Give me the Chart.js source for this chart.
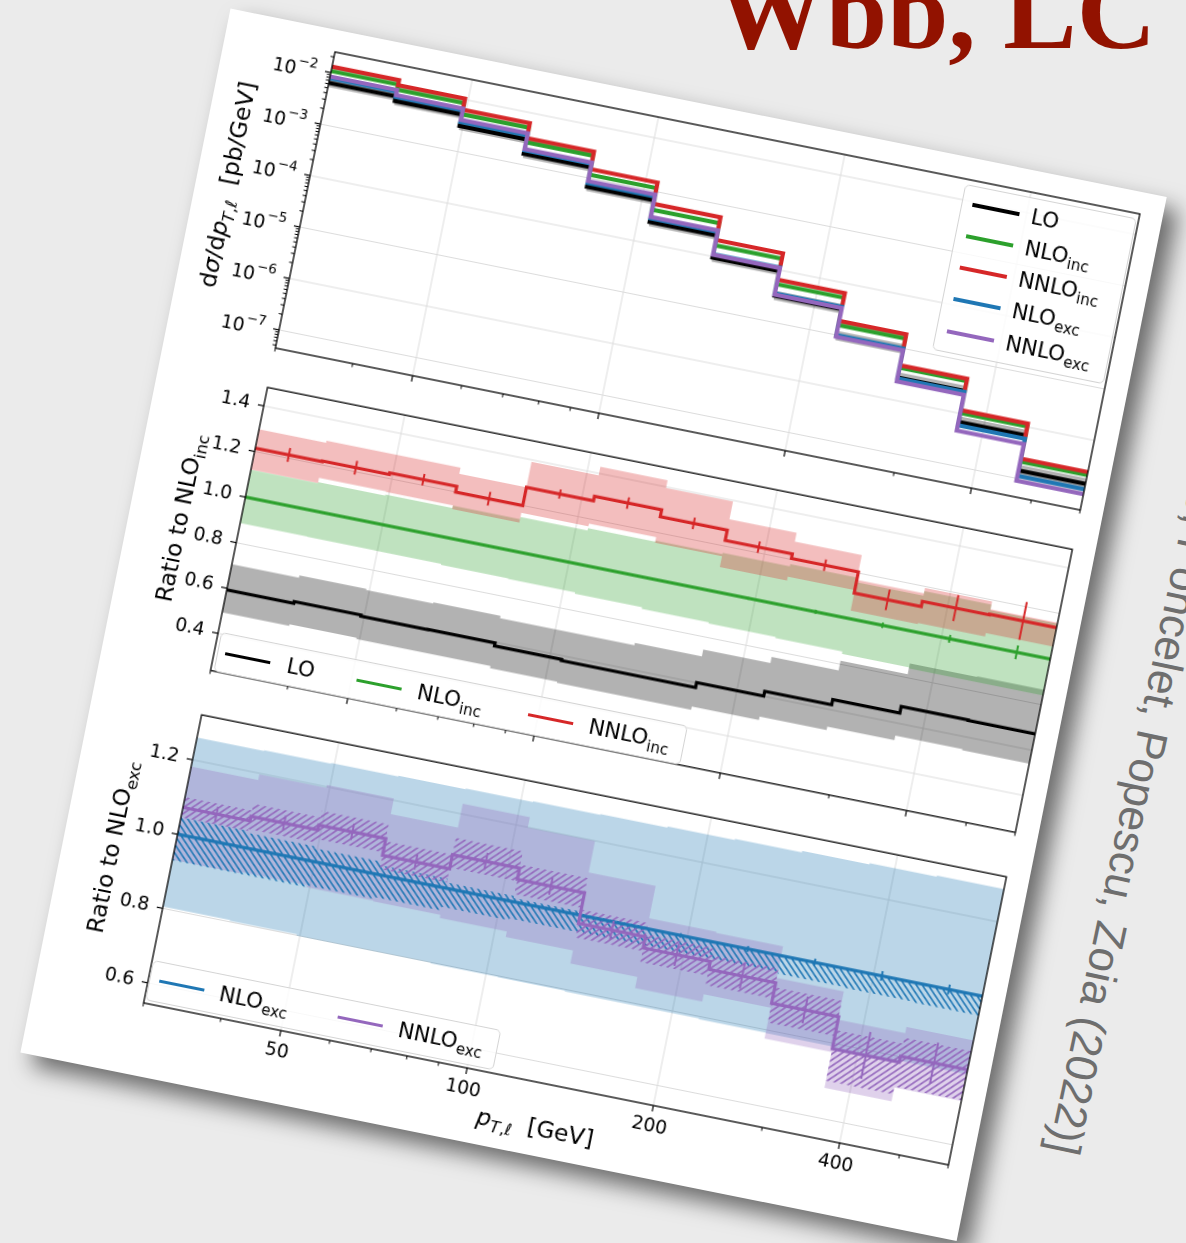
<!DOCTYPE html>
<html>
<head>
<meta charset="utf-8">
<title>Wbb̄, LC – lepton transverse momentum</title>
<script src="https://cdn.jsdelivr.net/npm/chart.js@4.4.1/dist/chart.umd.min.js"></script>
<style>
  html, body { margin: 0; padding: 0; }
  body { width: 1186px; height: 1243px; overflow: hidden; position: relative; background: #ebebeb; font-family: 'DejaVu Sans', sans-serif; }
  #title { position: absolute; left: 716px; top: -44px; font: bold 110px/1 'Liberation Serif', serif; color: #921200; white-space: nowrap; }
  #cite { position: absolute; left: 1258px; top: 343px; transform-origin: 0 0; transform: rotate(102deg); font: 44px/1 'Liberation Sans', sans-serif; color: #6e6e6e; white-space: nowrap; }
  #frame { position: absolute; left: 335px; top: 51.7px; width: 0; height: 0; transform-origin: 0 0; transform: rotate(11.38deg); }
  #card { position: absolute; left: -111.5px; top: -21.7px; width: 955px; height: 1064.5px; background: #fff; box-shadow: 14px 11px 22px rgba(0,0,0,0.55); }
  canvas { position: absolute; }
  .leg { position: absolute; box-sizing: border-box; border: 1px solid #d4d4d4; border-radius: 5px; background: rgba(255,255,255,0.8); }
  .hd { position: absolute; }
  .tx { position: absolute; font-size: 21.5px; line-height: 22px; white-space: nowrap; color: #000; }
  sub { font-size: 70%; vertical-align: baseline; position: relative; top: 0.35em; line-height: 0; }
  .lab { position: absolute; font-size: 23.5px; line-height: 24px; white-space: nowrap; color: #000; transform: translate(-50%, -50%); }
  .lab sub { top: 0.3em; }
  .vl { transform: translate(-50%, -50%) rotate(-90deg); }
</style>
</head>
<body>
<div id="title">Wbb̄, LC</div>
<div id="cite">[Hartanto, Poncelet, Popescu, Zoia (2022)]</div>

<div id="frame">
  <div id="card"></div>

  <canvas id="cTop" width="945" height="328" style="left:-110px;top:-12px;width:945px;height:328px"></canvas>
  <canvas id="cMid" width="945" height="327" style="left:-110px;top:322.5px;width:945px;height:327px"></canvas>
  <canvas id="cBot" width="945" height="357" style="left:-110px;top:657px;width:945px;height:357px"></canvas>

  <div class="lab vl" style="left:-79.5px;top:150.9px">d<i>σ</i>/d<i>p</i><sub><i>T</i>,<i>ℓ</i></sub>&nbsp;&nbsp;[pb/GeV]</div>
  <div class="lab vl" style="left:-60.1px;top:487.2px">Ratio to NLO<sub>inc</sub></div>
  <div class="lab vl" style="left:-62.2px;top:822.6px">Ratio to NLO<sub>exc</sub></div>
  <div class="lab" style="left:408.3px;top:1014.7px"><i>p</i><sub><i>T</i>,<i>ℓ</i></sub>&nbsp;&nbsp;[GeV]</div>

  <div class="leg" style="left:643.6px;top:4.7px;width:175px;height:169px">
    <div class="hd" style="left:10.4px;top:16.6px;width:48px;height:4px;background:#000000"></div>
    <div class="tx" style="left:70.4px;top:7.6px">LO</div>
    <div class="hd" style="left:10.4px;top:48.1px;width:48px;height:4px;background:#2ca02c"></div>
    <div class="tx" style="left:70.4px;top:39.1px">NLO<sub>inc</sub></div>
    <div class="hd" style="left:10.4px;top:80.2px;width:48px;height:4px;background:#d62728"></div>
    <div class="tx" style="left:70.4px;top:71.2px">NNLO<sub>inc</sub></div>
    <div class="hd" style="left:10.4px;top:111.9px;width:48px;height:4px;background:#1f77b4"></div>
    <div class="tx" style="left:70.4px;top:102.9px">NLO<sub>exc</sub></div>
    <div class="hd" style="left:10.4px;top:144.9px;width:48px;height:4px;background:#9467bd"></div>
    <div class="tx" style="left:70.4px;top:135.9px">NNLO<sub>exc</sub></div>
  </div>

  <div class="leg" style="left:3.4px;top:591px;width:476px;height:40px">
    <div class="hd" style="left:6.6px;top:17.9px;width:46px;height:3px;background:#000000"></div>
    <div class="tx" style="left:69.6px;top:8.4px">LO</div>
    <div class="hd" style="left:140.6px;top:17.9px;width:46px;height:3px;background:#2ca02c"></div>
    <div class="tx" style="left:202.6px;top:8.4px">NLO<sub>inc</sub></div>
    <div class="hd" style="left:315.6px;top:17.9px;width:46px;height:3px;background:#d62728"></div>
    <div class="tx" style="left:377.6px;top:8.4px">NNLO<sub>inc</sub></div>
  </div>

  <div class="leg" style="left:1.1px;top:926.3px;width:355px;height:41px">
    <div class="hd" style="left:9.4px;top:17px;width:46px;height:3px;background:#1f77b4"></div>
    <div class="tx" style="left:70.4px;top:7.5px">NLO<sub>exc</sub></div>
    <div class="hd" style="left:190.5px;top:17px;width:46px;height:3px;background:#9467bd"></div>
    <div class="tx" style="left:252.9px;top:7.5px">NNLO<sub>exc</sub></div>
  </div>
</div>

<script>
// ---- binning in p_T,l [GeV] (12 log-spaced bins) ----
const EDGES   = [30, 38.5, 49.4, 63.4, 81.4, 104.5, 134.2, 172.2, 221.1, 283.7, 364.2, 467.5, 600];
const CENTERS = [34.0, 43.6, 56.0, 71.8, 92.2, 118.4, 152.0, 195.1, 250.5, 321.4, 412.6, 529.6];

// ---- axis ticks ----
const X_MAJOR = [50, 100, 200, 400];
const X_TICK_LABELS = ['50', '100', '200', '400'];
const X_MINOR = [30, 40, 60, 70, 80, 90, 300, 500, 600];
const TOP_Y_TICKS = [1e-7, 1e-6, 1e-5, 1e-4, 1e-3, 1e-2];
const TOP_Y_BASE  = '10';
const TOP_Y_EXP   = ['−7', '−6', '−5', '−4', '−3', '−2'];
const MID_Y_TICKS  = [0.4, 0.6, 0.8, 1.0, 1.2, 1.4];
const MID_Y_LABELS = ['0.4', '0.6', '0.8', '1.0', '1.2', '1.4'];
const BOT_Y_TICKS  = [0.6, 0.8, 1.0, 1.2];
const BOT_Y_LABELS = ['0.6', '0.8', '1.0', '1.2'];

// ---- dσ/dp_T,l [pb/GeV] ----
const LO       = [6.30e-3, 5.10e-3, 3.06e-3, 1.61e-3, 6.73e-4, 2.55e-4, 9.51e-5, 3.16e-5, 9.59e-6, 2.71e-6, 6.80e-7, 1.42e-7];
const LO_HI    = [7.51e-3, 6.08e-3, 3.66e-3, 1.93e-3, 8.14e-4, 3.12e-4, 1.177e-4, 3.93e-5, 1.193e-5, 3.43e-6, 8.71e-7, 1.825e-7];
const LO_LO    = [5.25e-3, 4.25e-3, 2.55e-3, 1.337e-3, 5.60e-4, 2.12e-4, 7.90e-5, 2.61e-5, 7.88e-6, 2.21e-6, 5.51e-7, 1.139e-7];
const NLO_INC  = [1.065e-2, 8.50e-3, 5.15e-3, 2.70e-3, 1.155e-3, 4.42e-4, 1.646e-4, 5.27e-5, 1.545e-5, 4.21e-6, 1.011e-6, 2.11e-7];
const NNLO_INC = [1.294e-2, 1.035e-2, 6.31e-3, 3.24e-3, 1.479e-3, 5.75e-4, 2.09e-4, 6.46e-5, 1.862e-5, 4.68e-6, 1.148e-6, 2.40e-7];
const NLO_EXC  = [7.77e-3, 6.12e-3, 3.66e-3, 1.89e-3, 7.97e-4, 3.01e-4, 1.103e-4, 3.48e-5, 9.89e-6, 2.61e-6, 5.86e-7, 1.118e-7];
const NNLO_EXC = [8.33e-3, 6.63e-3, 4.02e-3, 1.99e-3, 8.69e-4, 3.19e-4, 1.079e-4, 3.30e-5, 9.17e-6, 2.28e-6, 4.61e-7, 8.97e-8];

// ---- ratio to NLO_inc ----
const R_LO        = [0.592, 0.600, 0.595, 0.596, 0.583, 0.578, 0.578, 0.600, 0.621, 0.644, 0.673, 0.671];
const R_LO_HI     = [0.705, 0.715, 0.710, 0.715, 0.705, 0.705, 0.715, 0.745, 0.772, 0.815, 0.862, 0.865];
const R_LO_LO     = [0.493, 0.500, 0.495, 0.495, 0.485, 0.480, 0.480, 0.495, 0.510, 0.525, 0.545, 0.540];
const R_NLO       = [1, 1, 1, 1, 1, 1, 1, 1, 1, 1, 1, 1];
const R_NLO_HI    = [1.120, 1.125, 1.130, 1.140, 1.150, 1.160, 1.165, 1.170, 1.180, 1.160, 1.180, 1.155];
const R_NLO_LO    = [0.886, 0.885, 0.884, 0.880, 0.878, 0.872, 0.865, 0.860, 0.855, 0.845, 0.840, 0.840];
const R_NLO_ERR   = [0.003, 0.003, 0.003, 0.004, 0.004, 0.005, 0.006, 0.007, 0.009, 0.012, 0.017, 0.030];
const R_NNLO      = [1.215, 1.218, 1.225, 1.200, 1.280, 1.300, 1.270, 1.225, 1.205, 1.112, 1.135, 1.138];
const R_NNLO_HI   = [1.298, 1.307, 1.307, 1.280, 1.392, 1.430, 1.396, 1.318, 1.279, 1.170, 1.194, 1.160];
const R_NNLO_LO   = [1.121, 1.144, 1.141, 1.125, 1.168, 1.180, 1.155, 1.108, 1.125, 1.035, 1.040, 1.055];
const R_NNLO_ERR  = [0.030, 0.030, 0.025, 0.030, 0.020, 0.025, 0.025, 0.025, 0.025, 0.045, 0.057, 0.083];

// ---- ratio to NLO_exc ----
const E_NLO       = [1, 1, 1, 1, 1, 1, 1, 1, 1, 1, 1, 1];
const E_NLO_HI    = [1.260, 1.262, 1.264, 1.266, 1.268, 1.270, 1.272, 1.275, 1.278, 1.282, 1.285, 1.288];
const E_NLO_LO    = [0.805, 0.803, 0.800, 0.800, 0.798, 0.797, 0.795, 0.795, 0.793, 0.792, 0.790, 0.790];
const E_NLO_H_HI  = [1.045, 1.040, 1.035, 1.025, 1.015, 1.010, 1.005, 1.002, 1.000, 1.000, 1.000, 1.000];
const E_NLO_H_LO  = [0.930, 0.930, 0.935, 0.940, 0.950, 0.955, 0.955, 0.955, 0.955, 0.952, 0.950, 0.948];
const E_NLO_ERR   = [0.003, 0.003, 0.003, 0.004, 0.004, 0.005, 0.005, 0.006, 0.008, 0.010, 0.013, 0.013];
const E_NNLO      = [1.072, 1.084, 1.097, 1.052, 1.090, 1.060, 0.978, 0.948, 0.927, 0.872, 0.786, 0.802];
const E_NNLO_HI   = [1.182, 1.197, 1.205, 1.163, 1.227, 1.199, 1.115, 1.028, 1.025, 0.940, 0.864, 0.881];
const E_NNLO_LO   = [0.931, 0.935, 0.930, 0.928, 0.920, 0.905, 0.870, 0.840, 0.860, 0.777, 0.681, 0.718];
const E_NNLO_H_HI = [1.100, 1.118, 1.135, 1.090, 1.135, 1.100, 1.015, 0.985, 0.965, 0.915, 0.836, 0.852];
const E_NNLO_H_LO = [1.045, 1.050, 1.060, 1.015, 1.055, 1.020, 0.940, 0.910, 0.885, 0.820, 0.700, 0.720];
const E_NNLO_ERR  = [0.020, 0.020, 0.022, 0.020, 0.023, 0.023, 0.025, 0.030, 0.034, 0.036, 0.063, 0.055];

// ---- styling ----
const C_LO = '#000000', C_NLO = '#2ca02c', C_NNLO = '#d62728', C_NLOX = '#1f77b4', C_NNLOX = '#9467bd';
const GRID = '#dcdcdc';
const LEFT = 110, PAD_T = 12, PAD_R = 14;
const TICK_FONT = 18.6, SUP_FONT = 13.5;
const FONT = "'DejaVu Sans', sans-serif";

Chart.defaults.font.family = FONT;
Chart.defaults.font.size = TICK_FONT;
Chart.defaults.color = '#000';

// histogram outline: one point per left bin edge plus the closing right edge
function steps(vals) {
  const pts = vals.map((y, i) => ({ x: EDGES[i], y }));
  pts.push({ x: EDGES[EDGES.length - 1], y: vals[vals.length - 1] });
  return pts;
}
// vertical error bars at bin centres, separated by gaps
function errPts(vals, errs) {
  const pts = [];
  vals.forEach((v, i) => {
    pts.push({ x: CENTERS[i], y: v - errs[i] }, { x: CENTERS[i], y: v + errs[i] }, { x: CENTERS[i], y: null });
  });
  return pts;
}
function stepLine(vals, color, width, order) {
  return { data: steps(vals), borderColor: color, borderWidth: width, stepped: true, fill: false, order };
}
function band(hi, lo, fillStyle, order) {
  return [
    { data: steps(hi), borderColor: 'transparent', borderWidth: 0, backgroundColor: fillStyle, stepped: true, fill: '+1', order },
    { data: steps(lo), borderColor: 'transparent', borderWidth: 0, stepped: true, fill: false, order }
  ];
}
function errBars(vals, errs, color, order) {
  return { data: errPts(vals, errs), borderColor: color, borderWidth: 2, fill: false, spanGaps: false, order };
}
function hatch(ctx, color, dir) {
  const k = 2, n = 7 * k;
  const c = document.createElement('canvas');
  c.width = c.height = n;
  const g = c.getContext('2d');
  g.strokeStyle = color;
  g.lineWidth = 1.6 * k;
  g.beginPath();
  if (dir === '/') {
    g.moveTo(-n, n); g.lineTo(n, -n);
    g.moveTo(-n, 2 * n); g.lineTo(2 * n, -n);
    g.moveTo(0, 2 * n); g.lineTo(2 * n, 0);
  } else {
    g.moveTo(-n, -n); g.lineTo(2 * n, 2 * n);
    g.moveTo(0, -n); g.lineTo(2 * n, n);
    g.moveTo(-n, 0); g.lineTo(n, 2 * n);
  }
  g.stroke();
  const p = ctx.createPattern(c, 'repeat');
  p.setTransform(new DOMMatrix([1 / k, 0, 0, 1 / k, 0, 0]));
  return p;
}

// closed axes box, short minor tick marks and power-of-ten labels
const axesBox = {
  id: 'axesBox',
  afterDatasetsDraw(chart, args, opts) {
    const { ctx, chartArea: a, scales } = chart;
    ctx.save();
    ctx.strokeStyle = '#000';
    ctx.lineWidth = 1;
    ctx.beginPath();
    X_MINOR.forEach(v => {
      const p = scales.x.getPixelForValue(v);
      ctx.moveTo(p, a.bottom); ctx.lineTo(p, a.bottom + 3.5);
    });
    (opts.yMinor || []).forEach(v => {
      const p = scales.y.getPixelForValue(v);
      ctx.moveTo(a.left, p); ctx.lineTo(a.left - 3.5, p);
    });
    ctx.stroke();
    ctx.lineWidth = 1.3;
    ctx.strokeRect(a.left, a.top, a.right - a.left, a.bottom - a.top);
    if (opts.pow) {
      ctx.fillStyle = '#000';
      ctx.textAlign = 'left';
      ctx.textBaseline = 'alphabetic';
      const right = a.left - 6 - 8;
      opts.pow.ticks.forEach((v, i) => {
        const y = scales.y.getPixelForValue(v);
        ctx.font = SUP_FONT + 'px ' + FONT;
        const ew = ctx.measureText(opts.pow.exps[i]).width;
        ctx.font = TICK_FONT + 'px ' + FONT;
        const bw = ctx.measureText(opts.pow.base).width;
        const x0 = right - ew - bw - 1;
        ctx.fillText(opts.pow.base, x0, y + 0.364 * TICK_FONT + 2);
        ctx.font = SUP_FONT + 'px ' + FONT;
        ctx.fillText(opts.pow.exps[i], x0 + bw + 1, y - 1.5);
      });
    }
    ctx.restore();
  }
};

function xScale(showLabels, xh) {
  return {
    type: 'logarithmic', min: 30, max: 600, offset: false,
    afterBuildTicks: s => { s.ticks = X_MAJOR.map(v => ({ value: v })); },
    afterFit: s => { s.height = xh; },
    ticks: { display: showLabels, autoSkip: false, maxRotation: 0, minRotation: 0, padding: 4,
             callback: (v, i) => X_TICK_LABELS[i] },
    grid: { color: GRID, lineWidth: 1, drawTicks: true, tickLength: 6, tickWidth: 1.2, tickColor: '#000', offset: false },
    border: { display: false }
  };
}
function yScale(type, min, max, ticks, labels) {
  return {
    type, min, max,
    afterBuildTicks: s => { s.ticks = ticks.map(v => ({ value: v })); },
    afterFit: s => { s.width = LEFT; },
    ticks: { display: !!labels, autoSkip: false, padding: 8, callback: (v, i) => (labels ? labels[i] : '') },
    grid: { color: GRID, lineWidth: 1, drawTicks: true, tickLength: 6, tickWidth: 1.2, tickColor: '#000' },
    border: { display: false }
  };
}
function makeChart(id, datasets, xOpts, yOpts, boxOpts) {
  return new Chart(document.getElementById(id), {
    type: 'line',
    data: { datasets },
    options: {
      responsive: false, animation: false, devicePixelRatio: 2, events: [],
      layout: { padding: { left: 0, right: PAD_R, top: PAD_T, bottom: 0 } },
      elements: { point: { radius: 0, hoverRadius: 0 }, line: { tension: 0 } },
      plugins: { legend: { display: false }, tooltip: { enabled: false }, axesBox: boxOpts },
      scales: { x: xOpts, y: yOpts }
    },
    plugins: [axesBox]
  });
}

// minor ticks of the logarithmic cross-section axis
const TOP_Y_MINOR = [];
for (let e = -8; e <= -2; e++) {
  for (let m = 2; m <= 9; m++) {
    const v = m * Math.pow(10, e);
    if (v > 4.4e-8 && v < 2.5e-2) TOP_Y_MINOR.push(v);
  }
}

// upper panel: differential cross sections
makeChart('cTop', [
  ...band(LO_HI, LO_LO, 'rgba(0,0,0,0.3)', 20),
  stepLine(LO, C_LO, 4.2, 19),
  stepLine(NLO_INC, C_NLO, 4.2, 18),
  stepLine(NNLO_INC, C_NNLO, 4.2, 17),
  stepLine(NLO_EXC, C_NLOX, 4.2, 16),
  stepLine(NNLO_EXC, C_NNLOX, 4.2, 15)
], xScale(false, 14), yScale('logarithmic', 4.4e-8, 2.5e-2, TOP_Y_TICKS, null),
   { yMinor: TOP_Y_MINOR, pow: { ticks: TOP_Y_TICKS, base: TOP_Y_BASE, exps: TOP_Y_EXP } });

// middle panel: ratio to inclusive NLO
makeChart('cMid', [
  ...band(R_LO_HI, R_LO_LO, 'rgba(0,0,0,0.3)', 20),
  stepLine(R_LO, C_LO, 3.2, 19),
  ...band(R_NLO_HI, R_NLO_LO, 'rgba(44,160,44,0.3)', 18),
  stepLine(R_NLO, C_NLO, 3.2, 17),
  errBars(R_NLO, R_NLO_ERR, C_NLO, 16),
  ...band(R_NNLO_HI, R_NNLO_LO, 'rgba(214,39,40,0.3)', 15),
  stepLine(R_NNLO, C_NNLO, 3.2, 14),
  errBars(R_NNLO, R_NNLO_ERR, C_NNLO, 13)
], xScale(false, 14), yScale('linear', 0.238, 1.482, MID_Y_TICKS, MID_Y_LABELS), {});

// lower panel: ratio to exclusive NLO
const botCtx = document.getElementById('cBot').getContext('2d');
makeChart('cBot', [
  ...band(E_NLO_HI, E_NLO_LO, 'rgba(31,119,180,0.3)', 20),
  ...band(E_NNLO_HI, E_NNLO_LO, 'rgba(148,103,189,0.3)', 19),
  ...band(E_NLO_H_HI, E_NLO_H_LO, hatch(botCtx, C_NLOX, '\\'), 18),
  ...band(E_NNLO_H_HI, E_NNLO_H_LO, hatch(botCtx, C_NNLOX, '/'), 17),
  stepLine(E_NLO, C_NLOX, 3.2, 16),
  errBars(E_NLO, E_NLO_ERR, C_NLOX, 15),
  stepLine(E_NNLO, C_NNLOX, 3.2, 14),
  errBars(E_NNLO, E_NNLO_ERR, C_NNLOX, 13)
], xScale(true, 44), yScale('linear', 0.546, 1.321, BOT_Y_TICKS, BOT_Y_LABELS), {});
</script>
</body>
</html>
